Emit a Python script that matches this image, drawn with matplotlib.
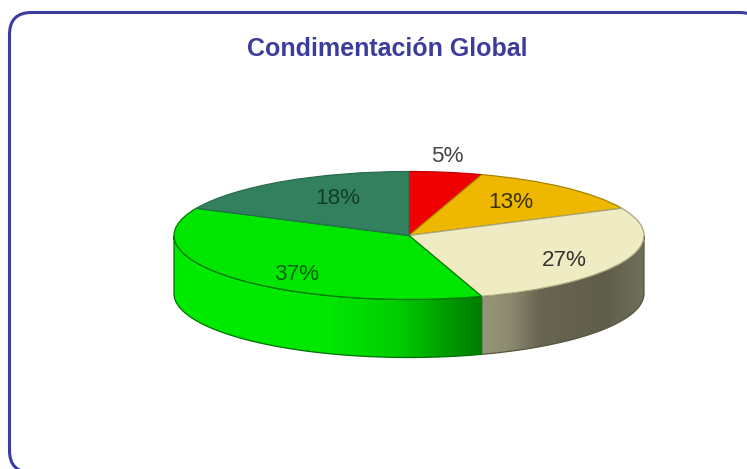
# Condimentacion Global - 3D style pie (matplotlib has no real 3D pie)

import numpy as np
import matplotlib
matplotlib.use("Agg")
import matplotlib.pyplot as plt
from matplotlib.patches import FancyBboxPatch, Polygon

# ── DATA ─────────────────────────────────
values = [5, 13, 27, 37, 18]
slice_colors = ["#F00000", "#EFB800", "#EFEBC3", "#00E600", "#33805F"]
edge_colors = ["#C00000", "#A88400", "#A8A680", "#007A00", "#2A6C50"]
label_colors = ["#444444", "#3B3000", "#333333", "#006400", "#143C2A"]
title = "Condimentación Global"

# label centres in pixels of the picture
label_x = [447, 511, 564, 297, 338]
label_y = [156, 203, 261, 275, 198]

# ── LAYOUT ───────────────────────────────
W, H = 747, 469
CX, CY, RX, RY, DEPTH = 409, 235.5, 235, 64, 58

plt.rcParams["font.family"] = ["Liberation Sans", "DejaVu Sans"]
fig = plt.figure(figsize=(W / 100, H / 100), dpi=100, facecolor="white")

# page axes in pixel units, for the frame and the texts
page = fig.add_axes([0, 0, 1, 1], zorder=1)
page.set_xlim(0, W)
page.set_ylim(H, 0)
page.axis("off")
page.add_patch(FancyBboxPatch((9.5, 12.5), 752, 460,
                              boxstyle="round,pad=0,rounding_size=22",
                              fc="white", ec="#3C3C9C", lw=2.2, clip_on=True))
page.text(387.5, 49, title, ha="center", va="center", fontsize=18,
          fontweight="bold", color="#3C3C9A")

# pie axes: one data unit is RX pixels across and RY pixels down
XL, YT, YB = 1.1, 1.2, -2.2
pie_ax = fig.add_axes([(CX - XL * RX) / W,
                       (H - CY + YB * RY) / H,
                       2 * XL * RX / W,
                       (YT - YB) * RY / H], zorder=2)
wedges, _ = pie_ax.pie(values, colors=slice_colors, startangle=90,
                       counterclock=False, radius=1,
                       wedgeprops={"lw": 0.9, "zorder": 5})
for w, ec in zip(wedges, edge_colors):
    w.set_edgecolor(ec)

# side wall of the front slices, with the horizontal shading of the original
dz = DEPTH / RY
frac = np.cumsum(values) / np.sum(values)
a_split = 90 - 360 * frac[2]   # cream / green boundary on the front
x_split = np.cos(np.radians(a_split))


def wall(a0, a1, xs, cols, ec):
    t = np.radians(np.linspace(a0, a1, 120))
    x, y = np.cos(t), np.sin(t)
    pts = np.r_[np.c_[x, y], np.c_[x[::-1], y[::-1] - dz]]
    poly = Polygon(pts, closed=True, fc="none", ec=ec, lw=0.9, zorder=3)
    pie_ax.add_patch(poly)
    grid = np.linspace(xs[0], xs[-1], 256)
    cols = np.array(cols) / 255
    img = np.stack([np.interp(grid, xs, cols[:, i]) for i in range(3)], axis=-1)
    im = pie_ax.imshow(img[None, :, :], extent=(xs[0], xs[-1], -dz - 1, 1),
                       aspect="auto", zorder=2, interpolation="bilinear")
    im.set_clip_path(poly)


# shading stops as a share of the way along each wall, in data units
wall(-180, a_split, -1 + (x_split + 1) * np.array([0, 0.5, 0.73, 0.92, 1]),
     [(0, 236, 0), (0, 232, 0), (0, 205, 0), (0, 145, 0), (0, 125, 0)], "#007000")
wall(a_split, 0, x_split + (1 - x_split) * np.array([0, 0.16, 0.35, 0.75, 1]),
     [(152, 150, 122), (142, 140, 112), (104, 102, 82), (96, 94, 74), (112, 112, 92)], "#55553F")

pie_ax.set_aspect("auto")
pie_ax.set_xlim(-XL, XL)
pie_ax.set_ylim(YB, YT)
pie_ax.axis("off")

# percent labels go on top of the pie
label_ax = fig.add_axes([0, 0, 1, 1], zorder=3)
label_ax.set_xlim(0, W)
label_ax.set_ylim(H, 0)
label_ax.axis("off")
for v, lx, ly, c in zip(values, label_x, label_y, label_colors):
    label_ax.text(lx, ly, f"{v}%", ha="center", va="center", fontsize=16.2, color=c)

plt.savefig("out.png", dpi=100)
